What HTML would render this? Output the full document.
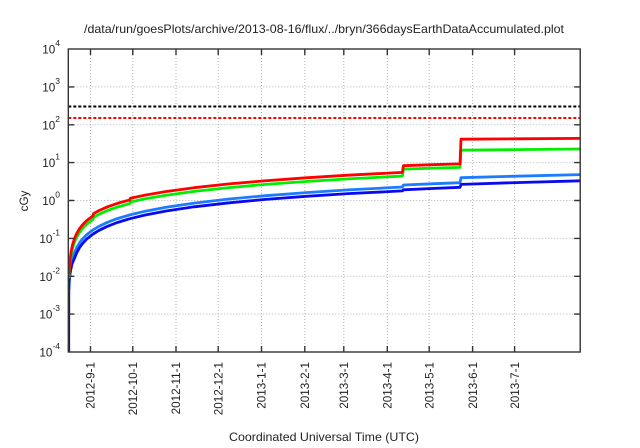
<!DOCTYPE html>
<html>
<head>
<meta charset="utf-8">
<style>
  html,body{margin:0;padding:0;background:#fff;}
  svg{display:block;}
  text{font-family:"Liberation Sans","DejaVu Sans",sans-serif;fill:#222;}
</style>
</head>
<body>
<svg width="640" height="448" viewBox="0 0 640 448" xmlns="http://www.w3.org/2000/svg">
  <rect x="0" y="0" width="640" height="448" fill="#fff"/>
  <defs>
    <clipPath id="pa"><rect x="68.3" y="49" width="511.9" height="303"/></clipPath>
  </defs>

  <!-- grid -->
  <g stroke="#b4b4b4" stroke-width="1" stroke-dasharray="1,2" fill="none">
    <line x1="68.3" y1="86.9" x2="580.2" y2="86.9"/>
    <line x1="68.3" y1="124.8" x2="580.2" y2="124.8"/>
    <line x1="68.3" y1="162.6" x2="580.2" y2="162.6"/>
    <line x1="68.3" y1="200.5" x2="580.2" y2="200.5"/>
    <line x1="68.3" y1="238.4" x2="580.2" y2="238.4"/>
    <line x1="68.3" y1="276.3" x2="580.2" y2="276.3"/>
    <line x1="68.3" y1="314.1" x2="580.2" y2="314.1"/>
    <line x1="90.5" y1="49" x2="90.5" y2="352"/>
    <line x1="132.8" y1="49" x2="132.8" y2="352"/>
    <line x1="176" y1="49" x2="176" y2="352"/>
    <line x1="218.2" y1="49" x2="218.2" y2="352"/>
    <line x1="261.5" y1="49" x2="261.5" y2="352"/>
    <line x1="304.8" y1="49" x2="304.8" y2="352"/>
    <line x1="343.8" y1="49" x2="343.8" y2="352"/>
    <line x1="387.3" y1="49" x2="387.3" y2="352"/>
    <line x1="429.2" y1="49" x2="429.2" y2="352"/>
    <line x1="472.6" y1="49" x2="472.6" y2="352"/>
    <line x1="514.6" y1="49" x2="514.6" y2="352"/>
  </g>

  <!-- series -->
  <g clip-path="url(#pa)" fill="none" stroke-width="2.8" stroke-linejoin="round" stroke-linecap="butt">
    <line x1="68.3" y1="106.5" x2="580.2" y2="106.5" stroke="#000" stroke-width="2" stroke-dasharray="3,2"/>
    <line x1="68.3" y1="118" x2="580.2" y2="118" stroke="#ff0000" stroke-width="2" stroke-dasharray="3,2"/>

    <path stroke="#1c7cff" d="M68.9,290 L69.7,277.1 L71.1,265.7 L72.5,259.1 L74.6,252.4 L76.7,247.65 L79.5,242.9 L82.3,239.2 L86.5,234.9 L93.1,229.8 L99.1,226.3 L107.5,222.3 L117.3,218.6 L129.9,214.9 L145.2,211.2 L166.2,207.2 L194.2,203.1 L229.2,199.0 L264.1,195.8 L306.1,192.6 L348.1,189.9 L402.4,187.0 L403.4,185.0 L432.0,183.8 L460.0,182.7 L461.0,177.7 L516.0,176.2 L581,174.6"/>
    <path stroke="#0a0af0" d="M68.7,352 L68.8,282 L69.5,277 L70.3,272 L72,264 L74.6,258.0 L76.7,252.8 L79.5,247.65 L82.3,243.8 L86.5,239.2 L93.1,234.0 L99.1,230.3 L107.5,226.3 L117.3,222.5 L129.9,218.7 L145.2,215.0 L166.2,211.0 L194.2,206.8 L229.2,202.8 L264.1,199.5 L306.1,196.3 L348.1,193.65 L402.4,190.9 L403.4,189.8 L432.0,188.5 L460.0,187.3 L461.0,184.4 L516.0,182.6 L581,180.8"/>
    <path stroke="#00ee00" d="M69.0,278.0 L69.7,266.6 L71.1,255.2 L72.5,248.5 L74.6,241.9 L76.7,237.1 L79.5,232.4 L82.3,228.7 L86.5,224.4 L93.1,219.3 L93.5,217.4 L99.1,214.2 L107.5,210.5 L117.3,207.1 L129.9,203.5 L130.3,202.0 L145.2,198.8 L166.2,195.2 L194.2,191.4 L229.2,187.6 L264.1,184.5 L306.1,181.5 L348.1,178.9 L402.4,176.05 L403.4,169.1 L432.0,168.2 L460.0,167.4 L461.0,150.2 L516.0,149.6 L581,149.0"/>
    <path stroke="#ff0000" d="M69.0,274.4 L69.7,263.0 L71.1,251.5 L72.5,244.9 L74.6,238.2 L76.7,233.5 L79.5,228.7 L82.3,225.1 L86.5,220.7 L93.1,215.7 L93.5,213.7 L99.1,210.5 L107.5,206.8 L117.3,203.4 L129.9,199.9 L130.3,198.3 L145.2,195.1 L166.2,191.5 L194.2,187.7 L229.2,183.9 L264.1,180.9 L306.1,177.8 L348.1,175.2 L402.4,172.4 L403.4,165.7 L432.0,164.7 L460.0,163.9 L461.0,139.2 L516.0,138.8 L581,138.4"/>
  </g>

  <!-- frame and ticks -->
  <g stroke="#333" stroke-width="1.4" fill="none">
    <rect x="68.3" y="49" width="511.9" height="303"/>
    <path d="M68.3,86.9h6M68.3,124.8h6M68.3,162.6h6M68.3,200.5h6M68.3,238.4h6M68.3,276.3h6M68.3,314.1h6
             M580.2,86.9h-6M580.2,124.8h-6M580.2,162.6h-6M580.2,200.5h-6M580.2,238.4h-6M580.2,276.3h-6M580.2,314.1h-6
             M90.5,352v-6M132.8,352v-6M176,352v-6M218.2,352v-6M261.5,352v-6M304.8,352v-6M343.8,352v-6M387.3,352v-6M429.2,352v-6M472.6,352v-6M514.6,352v-6
             M90.5,49v6M132.8,49v6M176,49v6M218.2,49v6M261.5,49v6M304.8,49v6M343.8,49v6M387.3,49v6M429.2,49v6M472.6,49v6M514.6,49v6"/>
  </g>

  <!-- title -->
  <text x="324" y="33" font-size="11.7" text-anchor="middle" textLength="480" lengthAdjust="spacingAndGlyphs">/data/run/goesPlots/archive/2013-08-16/flux/../bryn/366daysEarthDataAccumulated.plot</text>

  <!-- y tick labels -->
  <g font-size="11.7" text-anchor="end">
    <text x="60" y="53.5">10<tspan dy="-7.5" font-size="8.5">4</tspan></text>
    <text x="60" y="91.4">10<tspan dy="-7.5" font-size="8.5">3</tspan></text>
    <text x="60" y="129.3">10<tspan dy="-7.5" font-size="8.5">2</tspan></text>
    <text x="60" y="167.1">10<tspan dy="-7.5" font-size="8.5">1</tspan></text>
    <text x="60" y="205">10<tspan dy="-7.5" font-size="8.5">0</tspan></text>
    <text x="60" y="242.9">10<tspan dy="-7.5" font-size="8.5">-1</tspan></text>
    <text x="60" y="280.8">10<tspan dy="-7.5" font-size="8.5">-2</tspan></text>
    <text x="60" y="318.6">10<tspan dy="-7.5" font-size="8.5">-3</tspan></text>
    <text x="60" y="356.5">10<tspan dy="-7.5" font-size="8.5">-4</tspan></text>
  </g>

  <!-- x tick labels -->
  <g font-size="11.7" text-anchor="end">
    <text transform="translate(94.7,362) rotate(-90)">2012-9-1</text>
    <text transform="translate(137,362) rotate(-90)">2012-10-1</text>
    <text transform="translate(180.2,362) rotate(-90)">2012-11-1</text>
    <text transform="translate(222.4,362) rotate(-90)">2012-12-1</text>
    <text transform="translate(265.7,362) rotate(-90)">2013-1-1</text>
    <text transform="translate(309,362) rotate(-90)">2013-2-1</text>
    <text transform="translate(348,362) rotate(-90)">2013-3-1</text>
    <text transform="translate(391.5,362) rotate(-90)">2013-4-1</text>
    <text transform="translate(433.4,362) rotate(-90)">2013-5-1</text>
    <text transform="translate(476.8,362) rotate(-90)">2013-6-1</text>
    <text transform="translate(518.8,362) rotate(-90)">2013-7-1</text>
  </g>

  <!-- axis labels -->
  <text transform="translate(28,201) rotate(-90)" font-size="11.7" text-anchor="middle">cGy</text>
  <text x="324" y="441" font-size="11.7" text-anchor="middle" textLength="190" lengthAdjust="spacingAndGlyphs">Coordinated Universal Time (UTC)</text>
</svg>
</body>
</html>
